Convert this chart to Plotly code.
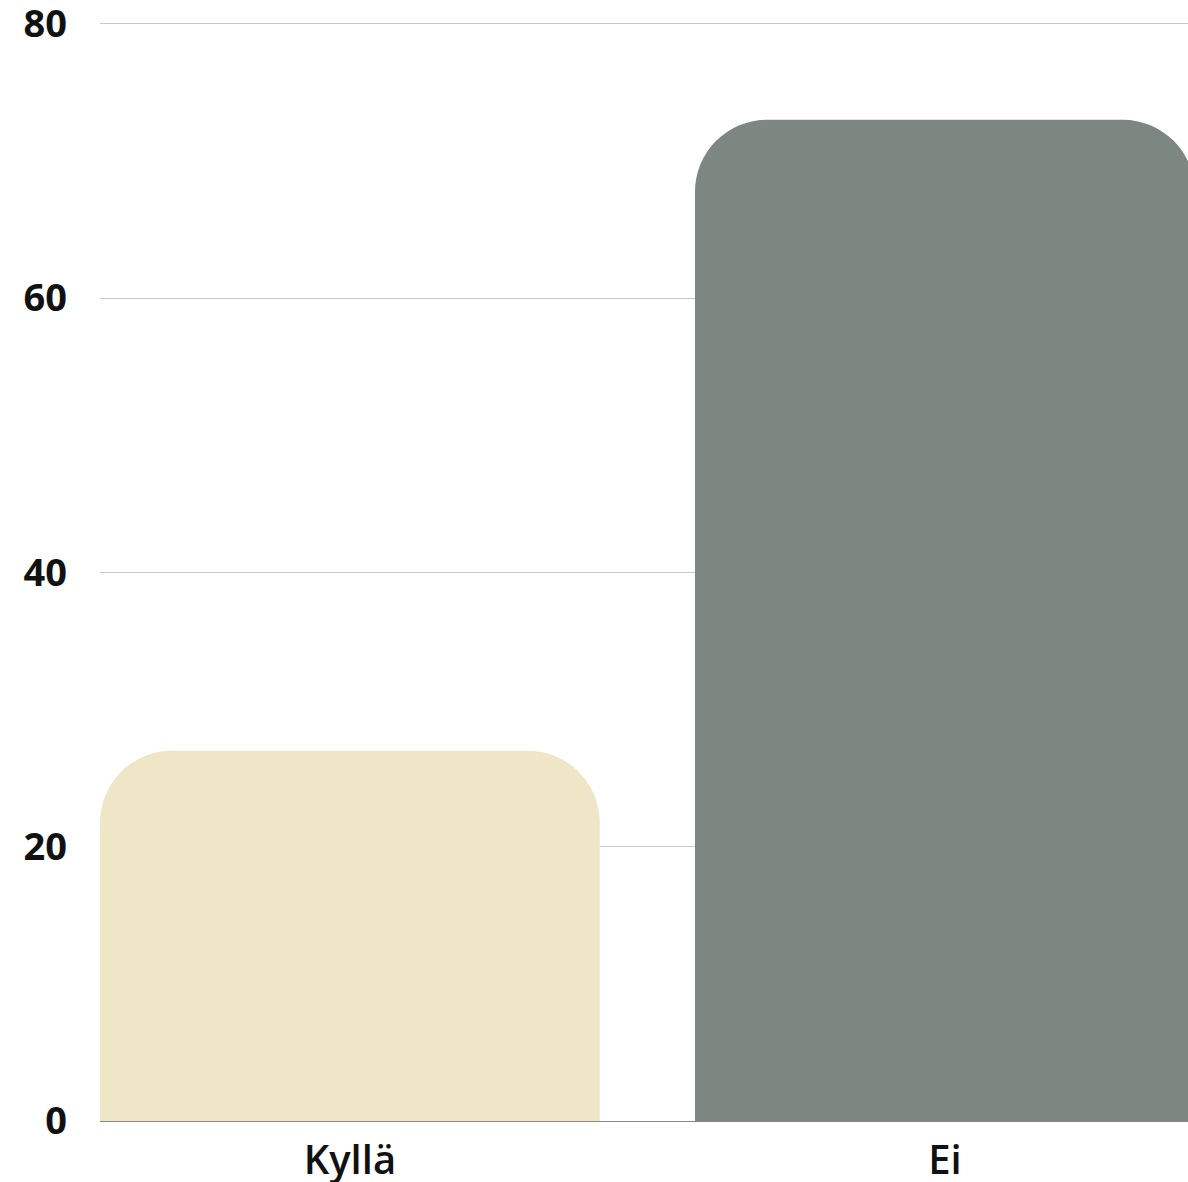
import plotly.graph_objects as go

categories = ["Kyllä", "Ei"]
values = [27, 73]
colors = ["#EFE6C8", "#7B8780"]
y_ticks = [0, 20, 40, 60, 80]

fig = go.Figure(go.Bar(
    x=categories, y=values,
    marker=dict(color=colors, cornerradius=72, line=dict(width=0)),
    hoverinfo="skip",
))
fig.update_layout(
    width=1188, height=1182,
    margin=dict(l=100, r=0, t=21, b=61),
    plot_bgcolor="white", paper_bgcolor="white",
    bargap=0.16,
    showlegend=False,
    xaxis=dict(
        range=[-0.42, 1.4086], automargin=False,
        showgrid=False, showline=True, linecolor="#888888", linewidth=1,
        tickfont=dict(family="Open Sans", size=40, color="#111111", weight=600),
        ticks="", ticklabelstandoff=4,
    ),
    yaxis=dict(
        range=[0, 80.2], tickvals=y_ticks, automargin=False,
        showgrid=True, gridcolor="#c8c8c8", gridwidth=1,
        zeroline=False, showline=False, ticklabeloverflow="allow",
        tickfont=dict(family="Open Sans", size=38, color="#111111", weight=700),
        ticks="", ticklabelstandoff=32,
    ),
)
fig.write_html(
    "out.html",
    config={"displayModeBar": False},
    post_script="document.body.style.margin='0';document.body.style.overflow='hidden';",
)
